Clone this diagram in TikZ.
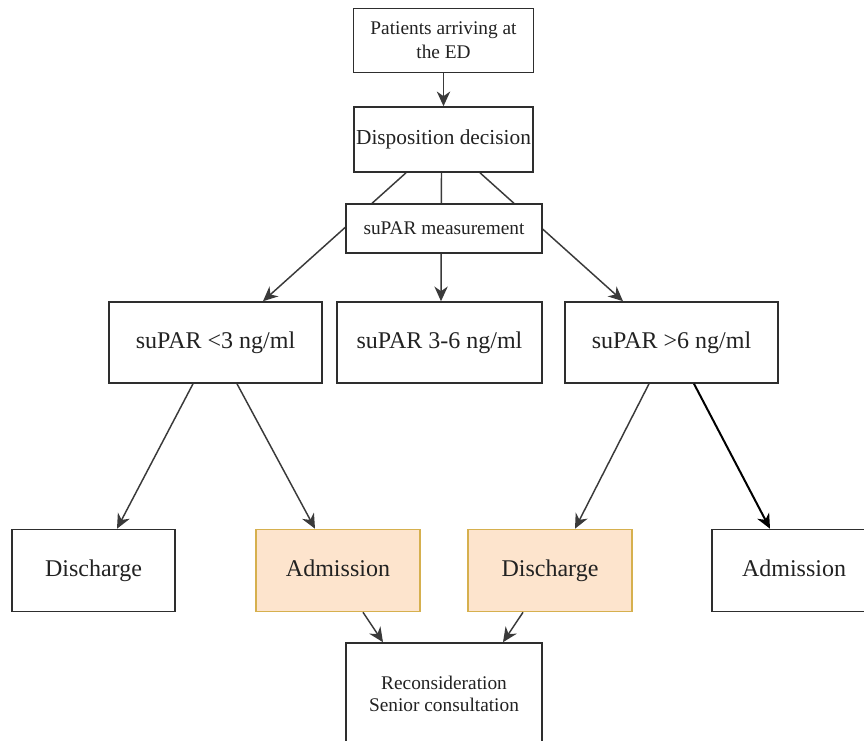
\documentclass[tikz,border=0pt]{standalone}
\usepackage{fontspec}
\setmainfont{Liberation Serif}
\usetikzlibrary{arrows.meta,calc}
\pgfdeclarelayer{background}
\pgfsetlayers{background,main}
\definecolor{linec}{HTML}{3A3A3A}
\definecolor{boxc}{HTML}{2E2E2E}
\definecolor{txtc}{HTML}{222222}
\definecolor{peach}{HTML}{FDE4CD}
\definecolor{gold}{HTML}{D6B04E}
\tikzset{
  box/.style={draw=boxc, line width=1.2pt, fill=white, text=txtc, inner sep=0pt, align=center},
  bigtxt/.style={font=\fontsize{18}{22}\selectfont, text height=12.5pt, text depth=4pt},
  midtxt/.style={font=\fontsize{16}{19}\selectfont},
  smalltxt/.style={font=\fontsize{14.5}{18}\selectfont},
  hl/.style={fill=peach, draw=gold},
  conn/.style={draw=linec, line width=1.1pt},
  arr/.style={conn, -{Stealth[length=11pt,width=10pt,inset=3.5pt]}},
}
\begin{document}
\begin{tikzpicture}[x=0.75pt,y=-0.75pt]
\clip (0,0) rectangle (864,740);

\node[box, smalltxt, minimum width=135pt, minimum height=48pt] (pat) at (443.5,40.5) {Patients arriving at\\the ED};
\node[box, midtxt, minimum width=134.25pt, minimum height=48.75pt] (disp) at (443.5,139.5) {Disposition decision};
\node[box, smalltxt, minimum width=147pt, minimum height=36.75pt] (meas) at (444,228.5) {suPAR measurement};

\node[box, bigtxt, minimum width=159.75pt, minimum height=60.75pt] (lt) at (215.5,342.5) {suPAR <3 ng/ml};
\node[box, bigtxt, minimum width=153.75pt, minimum height=60.75pt] (mid) at (439.5,342.5) {suPAR 3-6 ng/ml};
\node[box, bigtxt, minimum width=159.75pt, minimum height=60.75pt] (rt) at (671.5,342.5) {suPAR >6 ng/ml};

\node[box, bigtxt, minimum width=122.25pt, minimum height=61.5pt] (d1) at (93.5,570.5) {Discharge};
\node[box, hl, bigtxt, minimum width=123pt, minimum height=61.5pt] (a1) at (338,570.5) {Admission};
\node[box, hl, bigtxt, minimum width=123pt, minimum height=61.5pt] (d2) at (550,570.5) {Discharge};
\node[box, bigtxt, minimum width=123pt, minimum height=61.5pt] (a2) at (794,570.5) {Admission};

\node[box, smalltxt, minimum width=147pt, minimum height=76.5pt, font=\fontsize{14.5}{17}\selectfont] (rec) at (444,694) {Reconsideration\\Senior consultation};

\begin{pgfonlayer}{background}
\fill[white] (0,0) rectangle (864,740);
\draw[arr] ($(disp.south)+(-37.5,0)$) -- ($(lt.north)+(47.5,0)$);
\draw[arr] ($(disp.south)+(-2,0)$) -- ($(mid.north)+(1.5,0)$);
\draw[arr] ($(disp.south)+(36.5,0)$) -- ($(rt.north)+(-48.5,0)$);
\end{pgfonlayer}

\draw[arr] (pat.south) -- (disp.north);
\draw[arr] ($(lt.south)+(-22.5,0)$) -- ($(d1.north)+(23.5,0)$);
\draw[arr] ($(lt.south)+(21.5,0)$) -- ($(a1.north)+(-23,0)$);
\draw[arr] ($(rt.south)+(-22.5,0)$) -- ($(d2.north)+(25,0)$);
\draw[arr, line width=1.5pt, draw=black] ($(rt.south)+(22.5,0)$) -- ($(a2.north)+(-24,0)$);
\draw[arr] ($(a1.south)+(25,0)$) -- ($(rec.north)+(-61,0)$);
\draw[arr] ($(d2.south)+(-27,0)$) -- ($(rec.north)+(59,0)$);
\end{tikzpicture}
\end{document}
